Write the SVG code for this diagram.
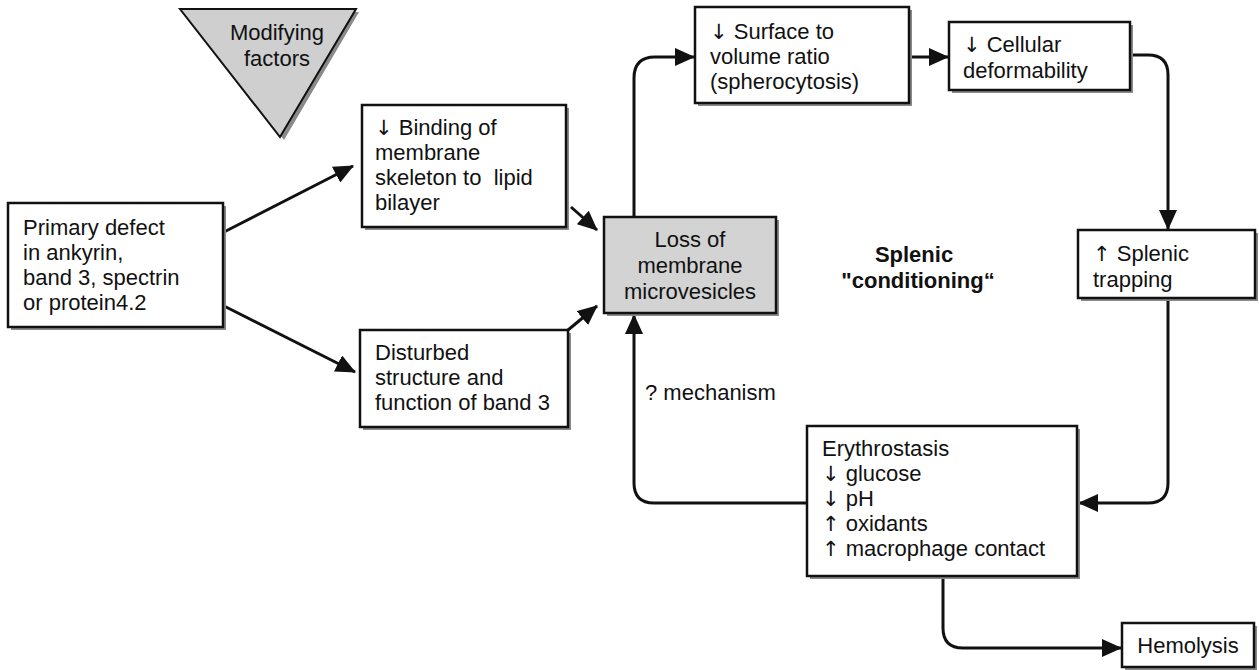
<svg xmlns="http://www.w3.org/2000/svg" width="1259" height="670" viewBox="0 0 1259 670">
<style>
text{font-family:"Liberation Sans",Arial,sans-serif;font-size:22px;fill:#111}
.ar{font-family:"DejaVu Sans",sans-serif;font-size:21px}
.box{fill:#fff;stroke:#111;stroke-width:2.5}
.grey{fill:#d3d3d3;stroke:#111;stroke-width:2.5}
.sh{fill:#8a8a8a}
.c{fill:none;stroke:#111;stroke-width:3;marker-end:url(#ah)}
.b{font-weight:bold}
</style>
<defs>
<marker id="ah" markerUnits="userSpaceOnUse" markerWidth="20" markerHeight="18" refX="19" refY="9" orient="auto">
<path d="M0,0 L20,9 L0,18 z" fill="#111"/>
</marker>
</defs>
<rect width="1259" height="670" fill="#fff"/>
<g id="connectors">
<path class="c" d="M224,232 L353,166"/>
<path class="c" d="M224,306 L355,372"/>
<path class="c" d="M571,207 L597,230"/>
<path class="c" d="M568,330 L597,306"/>
<path class="c" d="M634,217 L634,78 Q634,57 655,57 L694,57"/>
<path class="c" d="M910,57 L948,57"/>
<path class="c" d="M1131,55 L1148,55 Q1168,55 1168,75 L1168,229"/>
<path class="c" d="M1168,298 L1168,483 Q1168,503 1148,503 L1079,503"/>
<path class="c" d="M807,503 L654,503 Q634,503 634,483 L634,315"/>
<path class="c" d="M943,577 L943,628 Q943,648 963,648 L1121,648"/>
</g>
<g id="modifying">
<path class="sh" d="M184,12 L359,12 L284,140 z"/>
<path d="M180,9 L356,9 L280,137 z" fill="#cfcfcf" stroke="#111" stroke-width="2"/>
<text x="277" y="40" text-anchor="middle">Modifying</text>
<text x="277" y="66" text-anchor="middle">factors</text>
</g>
<g id="primary">
<rect class="sh" x="11" y="206" width="215" height="124"/>
<rect class="box" x="8" y="203" width="215" height="124"/>
<text x="23" y="235">Primary defect</text>
<text x="23" y="260">in ankyrin,</text>
<text x="23" y="285">band 3, spectrin</text>
<text x="23" y="310">or protein4.2</text>
</g>
<g id="binding">
<rect class="sh" x="365" y="108" width="204" height="122"/>
<rect class="box" x="362" y="105" width="204" height="122"/>
<text x="375" y="135"><tspan class="ar">↓</tspan> Binding of</text>
<text x="375" y="160">membrane</text>
<text x="375" y="185" xml:space="preserve">skeleton to  lipid</text>
<text x="375" y="210">bilayer</text>
</g>
<g id="disturbed">
<rect class="sh" x="363" y="333" width="208" height="97"/>
<rect class="box" x="360" y="330" width="208" height="97"/>
<text x="375" y="360">Disturbed</text>
<text x="375" y="385">structure and</text>
<text x="375" y="410">function of band 3</text>
</g>
<g id="loss">
<rect class="sh" x="607" y="220" width="172" height="96"/>
<rect class="grey" x="604" y="217" width="172" height="96"/>
<text x="690" y="247" text-anchor="middle">Loss of</text>
<text x="690" y="273" text-anchor="middle">membrane</text>
<text x="690" y="299" text-anchor="middle">microvesicles</text>
</g>
<g id="surface">
<rect class="sh" x="698" y="10" width="214" height="96"/>
<rect class="box" x="695" y="7" width="214" height="96"/>
<text x="710" y="39"><tspan class="ar">↓</tspan> Surface to</text>
<text x="710" y="64">volume ratio</text>
<text x="710" y="89">(spherocytosis)</text>
</g>
<g id="cellular">
<rect class="sh" x="952" y="25" width="181" height="68"/>
<rect class="box" x="949" y="22" width="181" height="68"/>
<text x="963" y="52"><tspan class="ar">↓</tspan> Cellular</text>
<text x="963" y="78">deformability</text>
</g>
<g id="trapping">
<rect class="sh" x="1081" y="233" width="177" height="68"/>
<rect class="box" x="1078" y="230" width="177" height="68"/>
<text x="1093" y="261"><tspan class="ar">↑</tspan> Splenic</text>
<text x="1093" y="287">trapping</text>
</g>
<g id="erythrostasis">
<rect class="sh" x="810" y="429" width="270" height="150"/>
<rect class="box" x="807" y="426" width="270" height="150"/>
<text x="822" y="456">Erythrostasis</text>
<text x="822" y="481"><tspan class="ar">↓</tspan> glucose</text>
<text x="822" y="506"><tspan class="ar">↓</tspan> pH</text>
<text x="822" y="531"><tspan class="ar">↑</tspan> oxidants</text>
<text x="822" y="556"><tspan class="ar">↑</tspan> macrophage contact</text>
</g>
<g id="hemolysis">
<rect class="sh" x="1125" y="626" width="132" height="44"/>
<rect class="box" x="1122" y="623" width="132" height="44"/>
<text x="1188" y="653" text-anchor="middle">Hemolysis</text>
</g>
<g id="labels">
<text class="b" x="914" y="262" text-anchor="middle">Splenic</text>
<text class="b" x="918" y="288" text-anchor="middle">"conditioning“</text>
<text x="645" y="400">? mechanism</text>
</g>
</svg>
